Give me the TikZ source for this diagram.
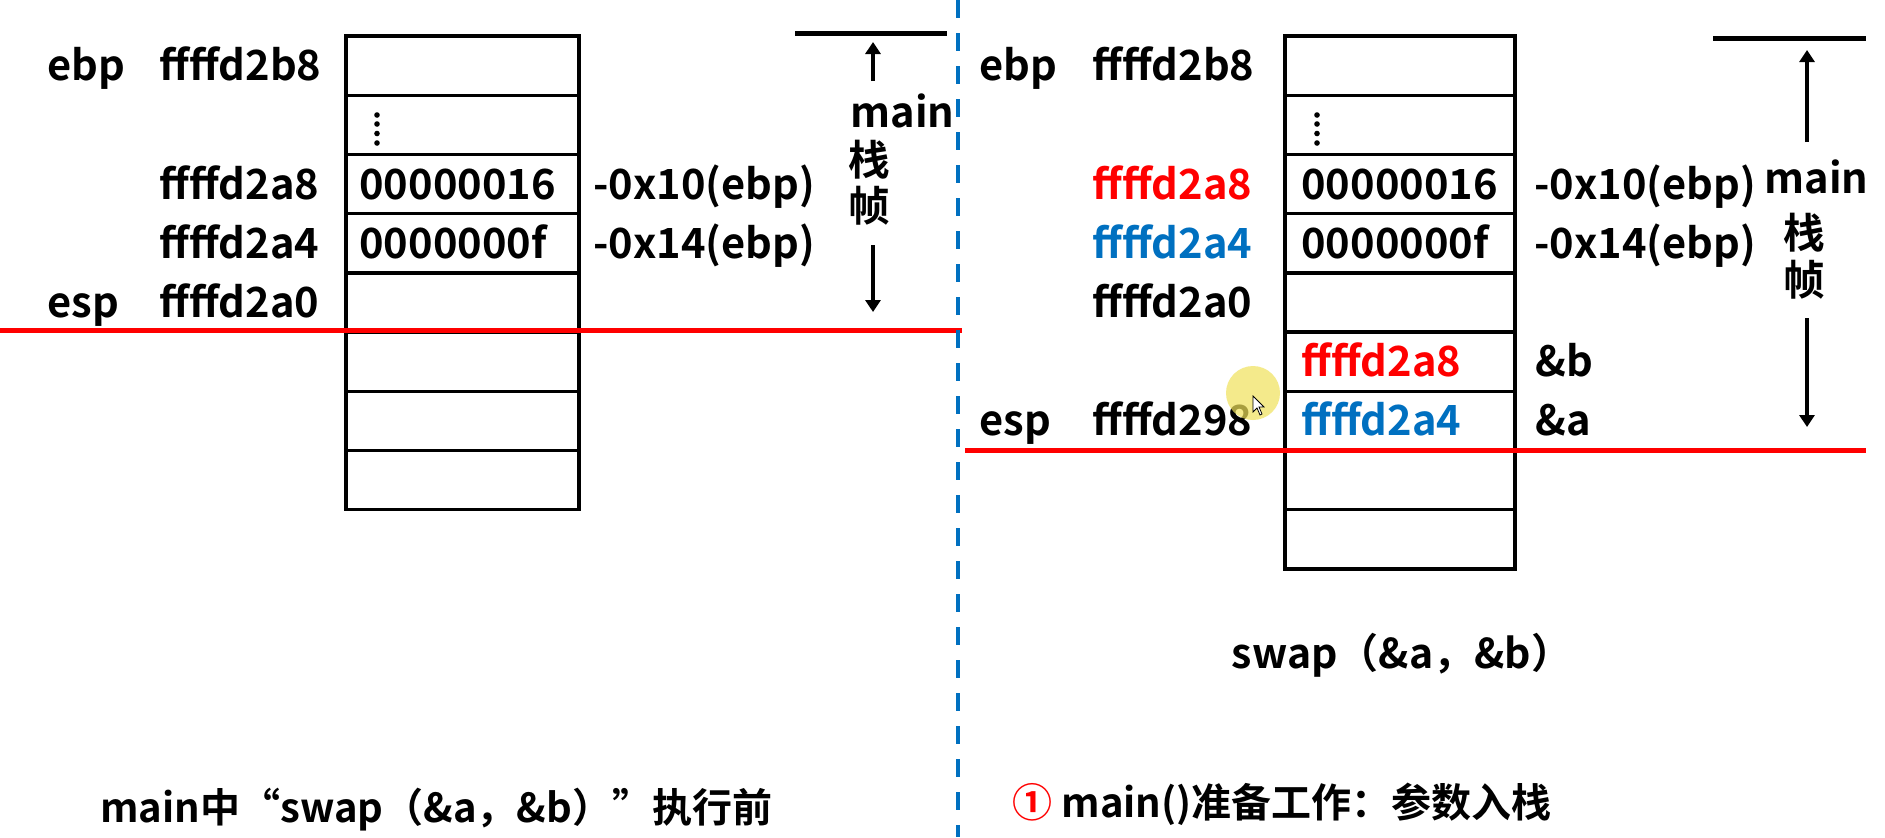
\documentclass[tikz,border=0pt]{standalone}
\usepackage{fontspec}
\setmainfont{Noto Sans CJK SC}[BoldFont={Noto Sans CJK SC Bold}]
\usetikzlibrary{arrows.meta}
\definecolor{myred}{RGB}{255,0,0}
\definecolor{myblue}{RGB}{0,112,192}
\definecolor{hl}{RGB}{240,226,90}
\tikzset{
  txt/.style={font=\fontsize{20.8}{24}\selectfont\bfseries, inner sep=0pt, anchor=base west},
  ctxt/.style={txt, anchor=base},
  captxt/.style={txt, font=\fontsize{20}{24}\selectfont\bfseries},
  cell/.style={draw, line width=1.7pt, minimum height=29.6pt, inner sep=0pt},
  lcell/.style={cell, minimum width=116.5pt},
  rcell/.style={cell, minimum width=115pt},
  redline/.style={draw=myred, line width=2.5pt},
  sepline/.style={draw=myblue, line width=2.3pt, dash pattern=on 9pt off 7.5pt},
  topbar/.style={line width=2.5pt},
  varrow/.style={line width=2pt, -{Triangle[length=6pt, width=7.5pt]}},
  dotmark/.style={fill, circle, inner sep=0pt, minimum size=2.8pt}
}
\begin{document}
\begin{tikzpicture}[x=0.5pt, y=-0.5pt]
\useasboundingbox (0,0) rectangle (1885,837);
\fill[white] (0,0) rectangle (1885,837);

% ---------------- left panel ----------------
\foreach \i in {1,...,8} {
  \node[lcell] (L\i) at (462.5, {36+59.2*(\i-0.5)}) {};
}
\node[txt] (Lebp) at (47,80.6) {ebp};
\node[txt] (Lab8) at (159,80.6) {ffffd2b8};
\node[dotmark] (Ld1) at (377,115) {};
\node[dotmark] (Ld2) at (377,124) {};
\node[dotmark] (Ld3) at (377,133.5) {};
\node[dotmark] (Ld4) at (377,143) {};
\node[txt] (Laa8) at (159,199) {ffffd2a8};
\node[txt] (Lv16) at (359,199) {00000016};
\node[txt] (Lo10) at (593,199) {-0x10(ebp)};
\node[txt] (Laa4) at (159,258.2) {ffffd2a4};
\node[txt] (Lv0f) at (359,258.2) {0000000f};
\node[txt] (Lo14) at (593,258.2) {-0x14(ebp)};
\node[txt] (Lesp) at (47,317.4) {esp};
\node[txt] (Laa0) at (159,317.4) {ffffd2a0};

\coordinate (LbarA) at (795,33);
\coordinate (LbarB) at (947,33);
\draw[topbar] (LbarA) -- (LbarB);
\coordinate (LupS) at (873,81);
\coordinate (LupE) at (873,42);
\draw[varrow] (LupS) -- (LupE);
\node[txt] (Lmain) at (850,127) {main};
\node[ctxt] (Lzhan) at (869,175) {栈};
\node[ctxt] (Lzhen) at (869,221) {帧};
\coordinate (LdnS) at (873,245);
\coordinate (LdnE) at (873,312);
\draw[varrow] (LdnS) -- (LdnE);

\coordinate (LredA) at (0,330);
\coordinate (LredB) at (962,330);
\draw[redline] (LredA) -- (LredB);

\node[captxt] (Lcap) at (100,822) {main中“swap（\&a，\&b）”执行前};

% ---------------- separator ----------------
\coordinate (SepA) at (958,0);
\coordinate (SepB) at (958,837);
\draw[sepline] (SepA) -- (SepB);

% ---------------- right panel ----------------
\foreach \i in {1,...,9} {
  \node[rcell] (R\i) at (1400, {36+59.2*(\i-0.5)}) {};
}
\node[txt] (Rebp) at (979,80.6) {ebp};
\node[txt] (Rab8) at (1092,80.6) {ffffd2b8};
\node[dotmark] (Rd1) at (1317,115) {};
\node[dotmark] (Rd2) at (1317,124) {};
\node[dotmark] (Rd3) at (1317,133.5) {};
\node[dotmark] (Rd4) at (1317,143) {};
\node[txt, text=myred] (Raa8) at (1092,199) {ffffd2a8};
\node[txt] (Rv16) at (1301,199) {00000016};
\node[txt] (Ro10) at (1534,199) {-0x10(ebp)};
\node[txt, text=myblue] (Raa4) at (1092,258.2) {ffffd2a4};
\node[txt] (Rv0f) at (1301,258.2) {0000000f};
\node[txt] (Ro14) at (1534,258.2) {-0x14(ebp)};
\node[txt] (Raa0) at (1092,317.4) {ffffd2a0};
\node[txt, text=myred] (Rpb) at (1301,376.6) {ffffd2a8};
\node[txt] (Rrb) at (1535,376.6) {\&b};
\node[txt] (Resp) at (979,435.8) {esp};
\node[txt] (R298) at (1092,435.8) {ffffd298};
\node[txt, text=myblue] (Rpa) at (1301,435.8) {ffffd2a4};
\node[txt] (Rra) at (1535,435.8) {\&a};

\coordinate (RbarA) at (1713,38);
\coordinate (RbarB) at (1866,38);
\draw[topbar] (RbarA) -- (RbarB);
\coordinate (RupS) at (1807,142);
\coordinate (RupE) at (1807,50);
\draw[varrow] (RupS) -- (RupE);
\node[txt] (Rmain) at (1764,193) {main};
\node[ctxt] (Rzhan) at (1804,248) {栈};
\node[ctxt] (Rzhen) at (1804,295) {帧};
\coordinate (RdnS) at (1807,318);
\coordinate (RdnE) at (1807,427);
\draw[varrow] (RdnS) -- (RdnE);

\coordinate (RredA) at (965,450);
\coordinate (RredB) at (1866,450);
\draw[redline] (RredA) -- (RredB);

\node[ctxt, font=\fontsize{20.5}{24}\selectfont\bfseries] (Rcall) at (1402,668) {swap（\&a，\&b）};
\node[captxt] (Rcap) at (1012,817) {\textcolor{myred}{①} main()准备工作：参数入栈};

% cursor highlight
\fill[hl, opacity=0.7] (1253,393) circle (13.5pt);
\draw[fill=white, line width=0.4pt] (1253,396) -- (1253,412) -- (1257,408) -- (1260,415) -- (1262,414) -- (1259,407) -- (1264,407) -- cycle;
\end{tikzpicture}
\end{document}
